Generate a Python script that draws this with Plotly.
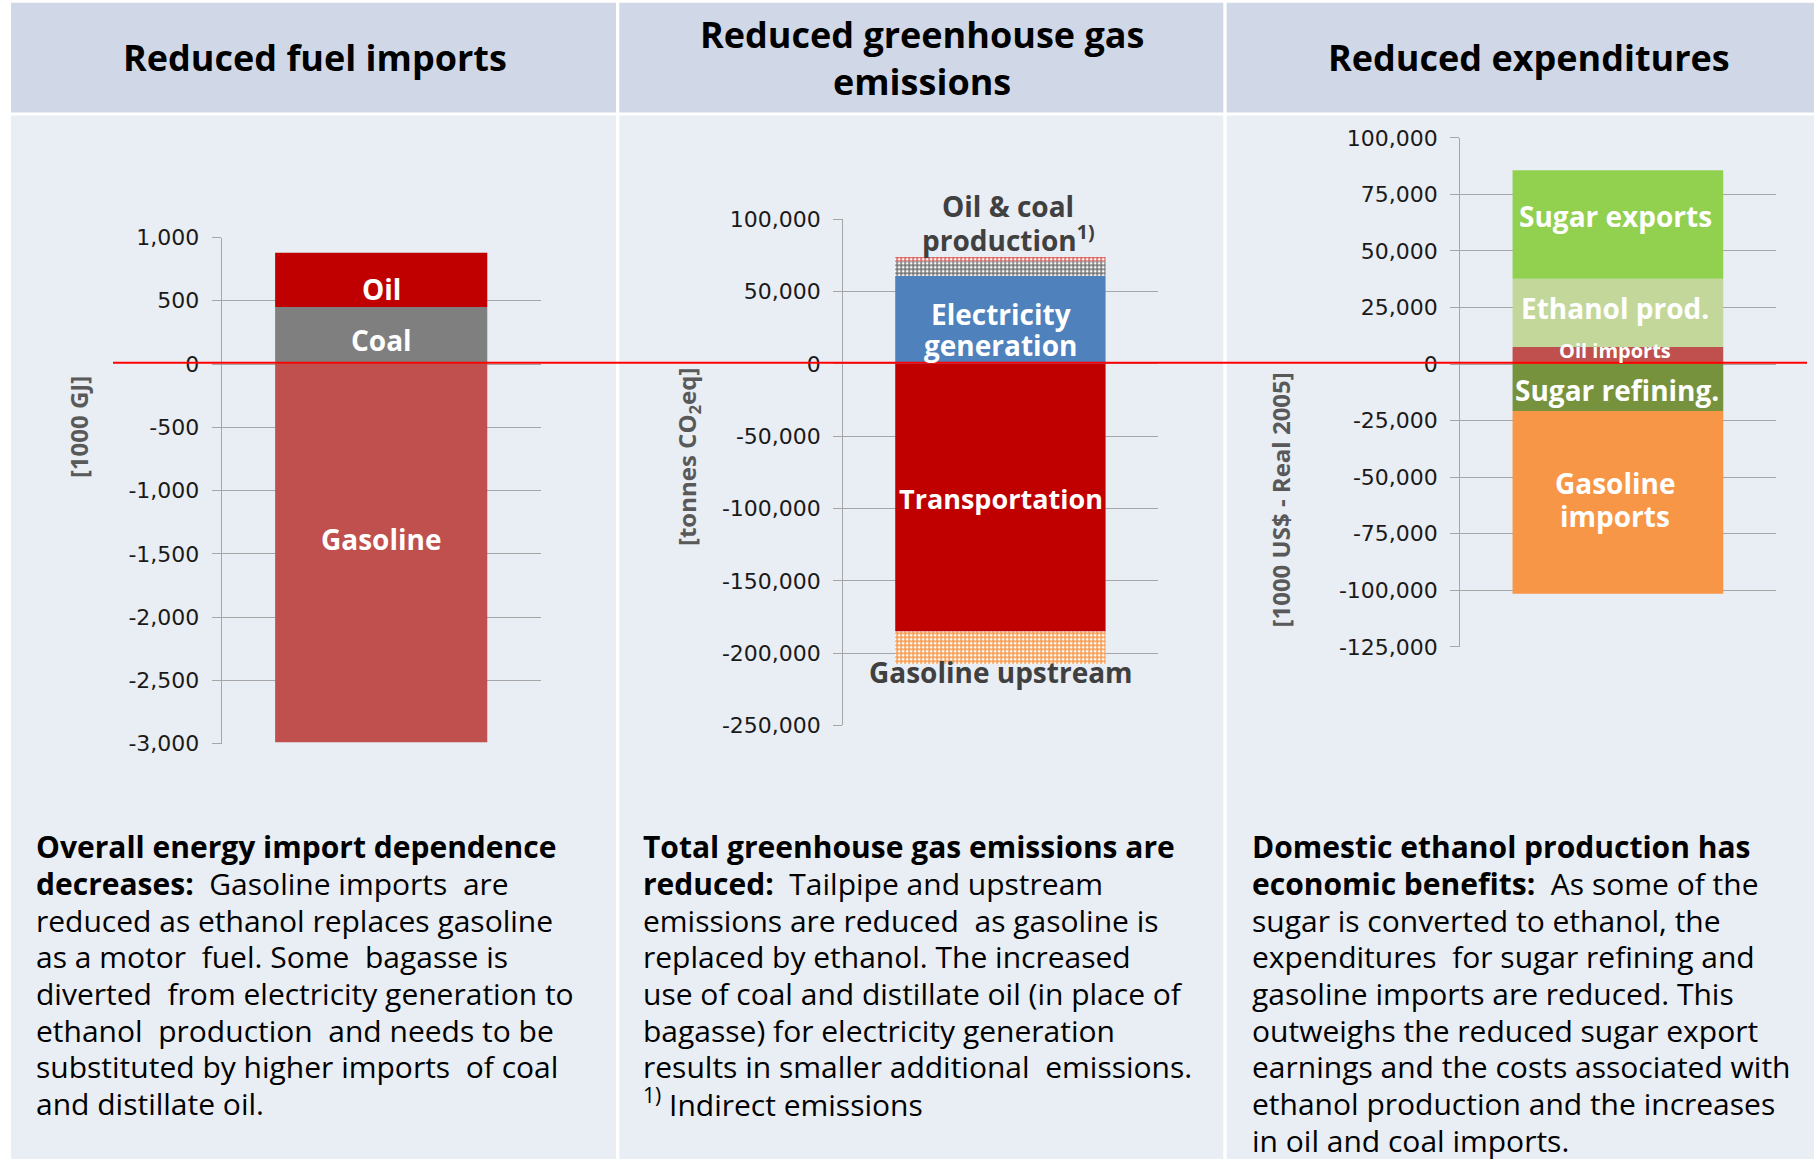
import plotly.graph_objects as go

W, H = 1814, 1159


def fx(x):
    return x / W


def fy(y):
    return 1 - y / H


# ---------------- data ----------------
# Panel 1: change in fuel imports [1000 GJ]
fuel_series = ["Gasoline", "Coal", "Oil"]
fuel_values = [-2990, 450, 430]
fuel_ticks = [1000, 500, 0, -500, -1000, -1500, -2000, -2500, -3000]
fuel_tick_labels = ["1,000", "500", "0", "-500", "-1,000", "-1,500", "-2,000", "-2,500", "-3,000"]

# Panel 2: change in greenhouse gas emissions [tonnes CO2eq]
ghg_series = ["Transportation", "Gasoline upstream", "Electricity generation",
              "Coal production", "Oil production"]
ghg_values = [-185000, -22500, 61000, 10000, 3000]
ghg_ticks = [100000, 50000, 0, -50000, -100000, -150000, -200000, -250000]
ghg_tick_labels = ["100,000", "50,000", "0", "-50,000", "-100,000", "-150,000",
                   "-200,000", "-250,000"]

# Panel 3: change in expenditures [1000 US$ - Real 2005]
exp_series = ["Sugar refining", "Gasoline imports", "Oil imports", "Ethanol prod.",
              "Sugar exports"]
exp_values = [-20800, -80800, 7500, 30200, 48000]
exp_ticks = [100000, 75000, 50000, 25000, 0, -25000, -50000, -75000, -100000, -125000]
exp_tick_labels = ["100,000", "75,000", "50,000", "25,000", "0", "-25,000", "-50,000",
                   "-75,000", "-100,000", "-125,000"]

headers = ["Reduced fuel imports", "Reduced greenhouse gas", "emissions",
           "Reduced expenditures"]

text_col1 = [
    "<b>Overall energy import dependence</b>",
    "<b>decreases:</b>  Gasoline imports  are",
    "reduced as ethanol replaces gasoline",
    "as a motor  fuel. Some  bagasse is",
    "diverted  from electricity generation to",
    "ethanol  production  and needs to be",
    "substituted by higher imports  of coal",
    "and distillate oil.",
]
text_col2 = [
    "<b>Total greenhouse gas emissions are</b>",
    "<b>reduced:</b>  Tailpipe and upstream",
    "emissions are reduced  as gasoline is",
    "replaced by ethanol. The increased",
    "use of coal and distillate oil (in place of",
    "bagasse) for electricity generation",
    "results in smaller additional  emissions.",
    "<sup>1)</sup> Indirect emissions",
]
text_col3 = [
    "<b>Domestic ethanol production has</b>",
    "<b>economic benefits:</b>  As some of the",
    "sugar is converted to ethanol, the",
    "expenditures  for sugar refining and",
    "gasoline imports are reduced. This",
    "outweighs the reduced sugar export",
    "earnings and the costs associated with",
    "ethanol production and the increases",
    "in oil and coal imports.",
]

# ---------------- styles ----------------
FONT = "Open Sans"
TICK_FONT = dict(family="DejaVu Sans", size=22, color="#1A1A1A")
GRID = "#A6A6A6"
HEADER_BG = "#D0D8E8"
BODY_BG = "#E9EDF4"

fuel_colors = {"Gasoline": "#C0504D", "Coal": "#7F7F7F", "Oil": "#C00000"}
ghg_colors = {"Transportation": "#C00000", "Electricity generation": "#4F81BD"}
ghg_patterns = {"Gasoline upstream": "#F79646", "Coal production": "#6E6E6E",
                "Oil production": "#D9534F"}
exp_colors = {"Sugar refining": "#76923C", "Gasoline imports": "#F79646",
              "Oil imports": "#C0504D", "Ethanol prod.": "#C4D79B",
              "Sugar exports": "#92D050"}

fig = go.Figure()

# Bars of panel 1
for name, val in zip(fuel_series, fuel_values):
    fig.add_trace(go.Bar(x=[0], y=[val], name=name, width=0.665,
                         marker=dict(color=fuel_colors[name], line=dict(width=0)),
                         xaxis="x", yaxis="y", showlegend=False))

# Bars of panel 2 (indirect emissions drawn with a grid hatch)
for name, val in zip(ghg_series, ghg_values):
    if name in ghg_patterns:
        marker = dict(color="#FFFFFF", line=dict(width=0),
                      pattern=dict(shape="+", fgcolor=ghg_patterns[name],
                                   bgcolor="#FFFFFF", fgopacity=1, size=4,
                                   solidity=0.6))
    else:
        marker = dict(color=ghg_colors[name], line=dict(width=0))
    fig.add_trace(go.Bar(x=[0], y=[val], name=name, width=0.669, marker=marker,
                         xaxis="x2", yaxis="y2", showlegend=False))

# Bars of panel 3
for name, val in zip(exp_series, exp_values):
    fig.add_trace(go.Bar(x=[0], y=[val], name=name, width=0.668,
                         marker=dict(color=exp_colors[name], line=dict(width=0)),
                         xaxis="x3", yaxis="y3", showlegend=False))


def yaxis_cfg(top, bottom, rng, ticks, labels, anchor):
    return dict(domain=[fy(bottom), fy(top)], range=rng, tickmode="array",
                tickvals=ticks, ticktext=labels, showgrid=True, gridcolor=GRID,
                gridwidth=1, showline=True, linecolor=GRID, linewidth=1,
                ticks="outside", ticklen=9, tickcolor=GRID, tickwidth=1,
                zeroline=False, tickfont=TICK_FONT, ticklabelstandoff=8,
                automargin=False, anchor=anchor, fixedrange=True)


def xaxis_cfg(left, right, anchor):
    return dict(domain=[fx(left), fx(right)], range=[-0.5, 0.5], visible=False,
                automargin=False, anchor=anchor, fixedrange=True)


fig.update_layout(
    width=W, height=H, autosize=False,
    margin=dict(l=0, r=0, t=0, b=0, pad=0, autoexpand=False),
    paper_bgcolor="#FFFFFF", plot_bgcolor="rgba(0,0,0,0)",
    barmode="relative", showlegend=False,
    font=dict(family=FONT, color="#000000"),
    xaxis=xaxis_cfg(221.7, 540.7, "y"),
    yaxis=yaxis_cfg(237.5, 743.6, [-3000, 1000], fuel_ticks, fuel_tick_labels, "x"),
    xaxis2=xaxis_cfg(843.2, 1157.6, "y2"),
    yaxis2=yaxis_cfg(219.3, 725.4, [-250000, 100000], ghg_ticks, ghg_tick_labels, "x2"),
    xaxis3=xaxis_cfg(1460.2, 1775.6, "y3"),
    yaxis3=yaxis_cfg(137.9, 646.8, [-125000, 100000], exp_ticks, exp_tick_labels, "x3"),
)

# ---------------- background panels ----------------
shapes = []
columns = [(11, 616), (619.3, 1223.3), (1226.7, 1814)]
for x0, x1 in columns:
    shapes.append(dict(type="rect", xref="paper", yref="paper", x0=fx(x0), x1=fx(x1),
                       y0=fy(112.5), y1=fy(2.7), fillcolor=HEADER_BG,
                       line=dict(width=0), layer="below"))
    shapes.append(dict(type="rect", xref="paper", yref="paper", x0=fx(x0), x1=fx(x1),
                       y0=fy(1159), y1=fy(115.5), fillcolor=BODY_BG,
                       line=dict(width=0), layer="below"))
# red zero reference line across all panels
shapes.append(dict(type="line", xref="paper", yref="paper", x0=fx(113), x1=fx(1807),
                   y0=fy(362.7), y1=fy(362.7), line=dict(color="#FF0000", width=2),
                   layer="above"))
fig.update_layout(shapes=shapes)

# ---------------- text ----------------
ann = []


def add_text(text, x, y, size, color="#000000", bold=False, xanchor="center",
             angle=0):
    """Place a text at pixel position (x, y) measured from the top-left corner."""
    ann.append(dict(text=f"<b>{text}</b>" if bold else text, x=fx(x), y=fy(y),
                    xref="paper", yref="paper", xanchor=xanchor, yanchor="middle",
                    showarrow=False, textangle=angle,
                    font=dict(family=FONT, size=size, color=color)))


# headers
add_text(headers[0], 315, 57.8, 36, bold=True)
add_text(headers[1], 922, 34.7, 36, bold=True)
add_text(headers[2], 922, 81, 36, bold=True)
add_text(headers[3], 1529, 57.8, 36, bold=True)

# paragraphs, one annotation per line
LINE0, STEP = 846.7, 36.67
for col_x, lines in [(33.5, text_col1), (641.2, text_col2), (1249.7, text_col3)]:
    for i, line in enumerate(lines):
        add_text(line, col_x, LINE0 + i * STEP, 30, xanchor="left")

# axis titles
AX_GREY = "#595959"
add_text("[1000 GJ]", 78.3, 426.8, 24, color=AX_GREY, bold=True, angle=-90)
add_text("[tonnes CO<sub>2</sub>eq]", 688.2, 456.8, 24, color=AX_GREY,
         bold=True, angle=-90)
add_text("[1000 US$ - Real 2005]", 1280.3, 500.2, 24, color=AX_GREY,
         bold=True, angle=-90)

# segment labels
WHITE = "#FFFFFF"
DARK = "#404040"
seg_labels = [
    ("Oil", 381, 288.6, 28, WHITE),
    ("Coal", 381, 340, 28, WHITE),
    ("Gasoline", 381, 539.3, 28, WHITE),
    ("Oil &amp; coal", 1008, 205.7, 28, DARK),
    ("production<sup>1)</sup>", 1008, 238.9, 28, DARK),
    ("Electricity", 1000.7, 313.9, 28, WHITE),
    ("generation", 1000.7, 345.4, 28, WHITE),
    ("Transportation", 1000.7, 498.9, 27, WHITE),
    ("Gasoline upstream", 1000.7, 672.1, 28, DARK),
    ("Sugar exports", 1615, 216.1, 28, WHITE),
    ("Ethanol prod.", 1615, 307.5, 28, WHITE),
    ("Oil imports", 1615, 351, 20, WHITE),
    ("Sugar refining.", 1616.8, 390.4, 28, WHITE),
    ("Gasoline", 1615, 483.2, 28, WHITE),
    ("imports", 1615, 516.4, 28, WHITE),
]
for text, x, y, size, color in seg_labels:
    add_text(text, x, y, size, color=color, bold=True)

fig.update_layout(annotations=ann)

fig.write_html("out.html")
